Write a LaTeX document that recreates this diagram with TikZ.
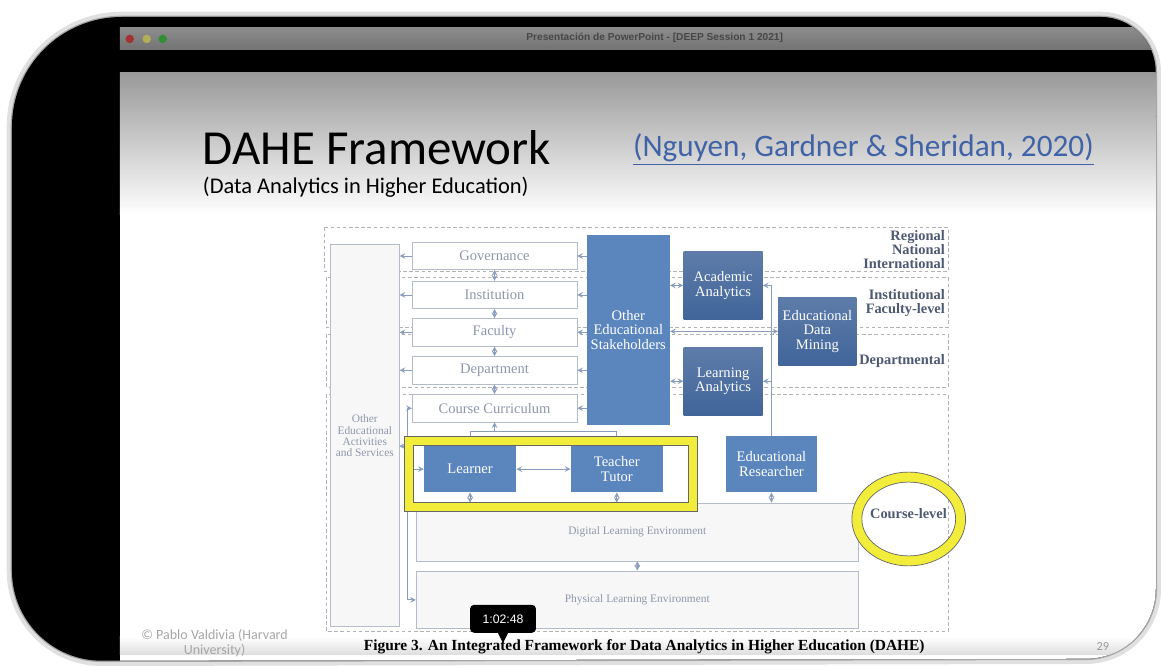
\documentclass[tikz,border=0pt]{standalone}
\usepackage{fontspec}
\setmainfont{Liberation Serif}
\newfontfamily\slidefont{Carlito}
\newfontfamily\barfont{Liberation Sans}
\usetikzlibrary{arrows,positioning}
\definecolor{boxblue}{HTML}{5B86BD}
\definecolor{darkblue}{HTML}{41659A}
\definecolor{figgray}{HTML}{8E97AA}
\definecolor{linegray}{HTML}{B4BCC9}
\definecolor{arrowgray}{HTML}{8A9DBC}
\definecolor{labelslate}{HTML}{4D5872}
\definecolor{hiyellow}{HTML}{F2EC3A}
\definecolor{linkblue}{HTML}{3F63A6}
\newcommand{\framepath}{(122,17) -- (1103,17) arc[start angle=90,end angle=0,radius=1.1cm] -- (1158,590) arc[start angle=0,end angle=-90,radius=1.4cm] -- (102,662) arc[start angle=-90,end angle=-180,radius=1.8cm] -- (12,127) arc[start angle=180,end angle=90,radius=2.2cm] -- cycle}

\begin{document}
\begin{tikzpicture}[x=0.02cm,y=-0.02cm,
  wbox/.style={draw=linegray, fill=white, minimum width=3.3cm, minimum height=0.55cm, inner sep=0pt, font=\fontsize{8.3}{9}\selectfont, text=figgray},
  bbox/.style={fill=boxblue, minimum width=1.84cm, minimum height=0.92cm, inner sep=0pt, align=center, font=\fontsize{8.3}{8.2}\selectfont, text=white},
  dbox/.style={bbox, top color=darkblue!85!white, bottom color=darkblue, minimum width=1.58cm, minimum height=1.36cm},
  envbox/.style={draw=linegray, fill=black!3, minimum width=8.86cm, minimum height=1.16cm, inner sep=0pt, font=\fontsize{6.5}{7}\selectfont, text=figgray},
  region/.style={draw=black!30, dash pattern=on 2pt off 1.5pt, line width=0.5pt},
  lvl/.style={anchor=east, align=right, inner sep=0pt, font=\fontsize{8.2}{8.2}\selectfont\bfseries, text=labelslate},
  arr/.style={draw=arrowgray, line width=0.45pt, >=stealth},
  ring/.style={draw=black!60, line width=0.4pt}]

  \fill[white] (0,0) rectangle (1161,667);  % page
  \draw[black!12, line width=6pt] \framepath;  % shadow
  \draw[black!35, line width=1.5pt] \framepath;
  \fill[black] \framepath;  % screen

  \begin{scope}
  \clip \framepath;
  \shade[top color=black!45, bottom color=black!55] (120,28) rectangle (1158,50);  % window bar
  \shade[top color=black!40, bottom color=white] (120,73) rectangle (1158,215);  % slide
  \fill[white] (120,215) rectangle (1158,662);
  \shade[top color=white, bottom color=black!13] (120,638) rectangle (1158,656);
  \end{scope}

  \fill[red!55!black!80] (130,39) circle (0.085cm);
  \fill[yellow!60!black!85] (147,39) circle (0.085cm);
  \fill[green!45!black!80] (163,39) circle (0.085cm);
  \node[font=\barfont\bfseries\fontsize{5.8}{6}\selectfont, text=black!72] (wintitle) at (656,38) {Presentación de PowerPoint - [DEEP Session 1 2021]};

  % slide text
  \node[anchor=west, inner sep=0pt, font=\slidefont\fontsize{27.9}{30}\selectfont] (title) at (203,148) {DAHE Framework};
  \node[anchor=west, inner sep=0pt, font=\slidefont\fontsize{12.8}{14}\selectfont] (subtitle) at (203,188) {(Data Analytics in Higher Education)};
  \node[anchor=west, inner sep=0pt, font=\slidefont\fontsize{17.8}{20}\selectfont, text=linkblue] (cite) at (634,150) {\underline{(Nguyen, Gardner \& Sheridan, 2020)}};

  % level regions
  \draw[region] (325,228) rectangle (950,272);
  \draw[region] (327,278) rectangle (950,328);
  \draw[region] (327,335) rectangle (950,388);
  \draw[region] (327,395) rectangle (950,633);
  \node[lvl] (intl) at (947,250) {Regional\\National\\International};
  \node[lvl] (instlvl) at (947,303.5) {Institutional\\Faculty-level};
  \node[lvl] (deptlvl) at (947,362) {Departmental};

  % boxes
  \node[draw=linegray, fill=black!3, minimum width=1.38cm, minimum height=7.66cm, inner sep=0pt, align=center, font=\fontsize{6.5}{6.3}\selectfont, text=figgray] (oeas) at (365.5,436.5) {Other\\Educational\\Activities\\and Services};
  \node[wbox] (gov) at (495.5,256.5) {Governance};
  \node[wbox] (inst) at (495.5,295.5) {Institution};
  \node[wbox] (fac) at (495.5,333) {Faculty};
  \node[wbox] (dept) at (495.5,371) {Department};
  \node[wbox] (curr) at (495.5,409) {Course Curriculum};
  \node[bbox, minimum width=1.66cm, minimum height=3.82cm] (oes) at (629.5,330.5) {Other\\Educational\\Stakeholders};
  \node[dbox] (aa) at (724.5,286) {Academic\\Analytics};
  \node[dbox] (la) at (724.5,382) {Learning\\Analytics};
  \node[dbox, minimum width=1.56cm] (edm) at (819,332) {Educational\\Data\\Mining};
  \node[bbox, minimum height=1.12cm] (er) at (773,465) {Educational\\Researcher};
  \node[bbox] (learner) at (471,470) {Learner};
  \node[bbox] (teacher) at (618,470) {Teacher\\Tutor};
  \node[envbox] (dle) at (638.5,533) {Digital Learning Environment};
  \node[envbox] (ple) at (638.5,601) {Physical Learning Environment};

  % links between levels
  \foreach \a/\b in {gov/inst,inst/fac,fac/dept,dept/curr}
    \draw[arr,<->] (\a.south) -- (\b.north);
  \foreach \n in {gov,inst,fac,dept,curr}
    \draw[arr,->] (oes.west |- \n.east) -- (\n.east);
  \foreach \n in {gov,inst,fac,dept}
    \draw[arr,->] (\n.west) -- (\n.west -| oeas.east);

  % curriculum to learner and teacher
  \coordinate (bus) at (495.5,432);
  \draw[arr,<-] (curr.south) -- (bus);
  \draw[arr] (bus -| learner.north) -- (bus -| teacher.north);
  \draw[arr,->] (bus -| learner.north) -- (learner.north);
  \draw[arr,->] (bus -| teacher.north) -- (teacher.north);
  \draw[arr,<->] (learner.east) -- (teacher.west);

  % left side links
  \coordinate (lbus) at (408,409);
  \coordinate (oeasout) at (400,447);
  \draw[arr] (lbus) -- (lbus |- ple.west);
  \draw[arr,->] (lbus) -- (curr.west);
  \draw[arr,->] (lbus |- learner.west) -- (learner.west);
  \draw[arr,->] (lbus |- ple.west) -- (ple.west);
  \draw[arr,<-] (oeasout) -- (oeasout -| lbus);

  % learning environments
  \draw[arr,<->] (learner.south) -- (learner.south |- dle.north);
  \draw[arr,<->] (teacher.south) -- (teacher.south |- dle.north);
  \draw[arr,<->] (er.south) -- (er.south |- dle.north);
  \draw[arr,<->] (dle.south) -- (ple.north);

  % analytics links
  \draw[arr,<->] (aa.west) -- (aa.west -| oes.east);
  \draw[arr,<->] (la.west) -- (la.west -| oes.east);
  \draw[arr,<->] (edm.west) -- (edm.west -| oes.east);
  \coordinate (rbus) at (773,286);
  \draw[arr] (er.north) -- (rbus);
  \draw[arr,->] (rbus) -- (aa.east);
  \draw[arr,->] (rbus |- la.east) -- (la.east);

  % highlights
  \draw[hiyellow, line width=0.18cm] (409.5,441.5) rectangle (694.5,507.5);
  \draw[ring] (405,437) rectangle (699,512);
  \draw[ring] (414,446) rectangle (690,503);
  \draw[hiyellow, line width=0.2cm] (910.5,520) ellipse [x radius=1.04cm, y radius=0.84cm];
  \draw[ring] (910.5,520) ellipse [x radius=1.14cm, y radius=0.94cm];
  \draw[ring] (910.5,520) ellipse [x radius=0.94cm, y radius=0.74cm];
  \node[lvl] (courselvl) at (949,515) {Course-level};

  % captions
  \node[font=\fontsize{8.8}{9}\selectfont\bfseries] (caption) at (645.5,648) {Figure 3. An Integrated Framework for Data Analytics in Higher Education (DAHE)};
  \node[align=center, font=\slidefont\fontsize{8}{8.6}\selectfont, text=black!35] (credit) at (215,644) {© Pablo Valdivia (Harvard\\University)};
  \node[font=\slidefont\fontsize{7}{8}\selectfont, text=black!40] (pagenum) at (1105,648) {29};

  % player time stamp
  \node[fill=black, rounded corners=0.08cm, text=white, font=\barfont\fontsize{7}{8}\selectfont, minimum width=1.32cm, minimum height=0.56cm] (stamp) at (504,620) {1:02:48};
  \fill[black] ([xshift=-0.1cm]stamp.south) -- ([xshift=0.1cm]stamp.south) -- ([yshift=-0.2cm]stamp.south) -- cycle;
\end{tikzpicture}
\end{document}
